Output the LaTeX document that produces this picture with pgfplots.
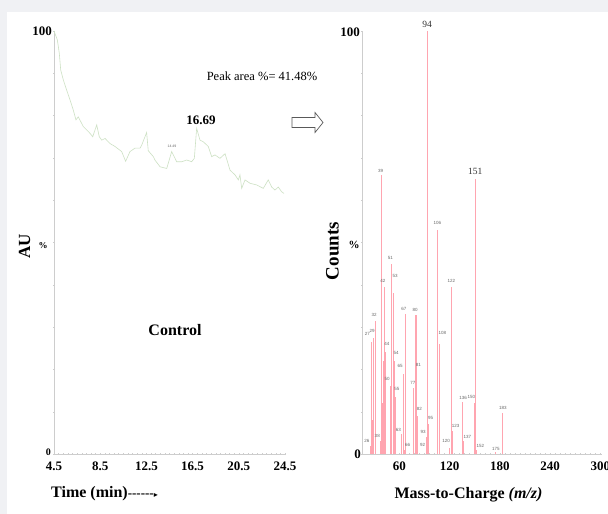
\documentclass[border=0pt]{standalone}
\usepackage{fontspec}
\setmainfont{Liberation Serif}
\newfontfamily\lsans{Liberation Sans}
\newfontfamily\dejavu{DejaVu Sans}
\usepackage{pgfplots}
\pgfplotsset{compat=1.18}
\definecolor{bgc}{RGB}{240,241,244}
\definecolor{curvec}{RGB}{205,225,196}
\definecolor{barc}{RGB}{255,165,176}
\definecolor{axc}{RGB}{205,205,205}
\definecolor{labc}{RGB}{105,105,105}
\newcommand{\fs}[1]{\fontsize{#1}{#1}\selectfont}

\pgfplotstableread{
x y
4.50 100
4.79 97.9
4.96 94.7
5.08 90.8
5.31 88.4
5.60 86.0
5.89 83.7
6.17 81.3
6.40 79.0
6.60 79.7
6.81 78.6
7.04 77.4
7.33 76.6
7.62 75.8
7.85 75.0
8.20 77.8
8.42 75.0
8.63 74.2
8.92 74.6
9.35 73.4
9.78 72.7
10.36 71.5
10.70 69.2
11.08 71.5
11.51 72.3
11.95 72.3
12.09 73.0
12.52 76.0
12.66 71.7
13.10 70.3
13.24 69.5
13.68 67.9
14.26 67.5
14.69 71.5
15.12 69.1
15.56 69.1
15.99 69.5
16.42 69.1
16.65 69.9
16.85 77.0
17.14 74.2
17.43 73.8
17.86 72.7
18.15 70.3
18.44 70.7
18.87 69.9
19.31 71.0
19.74 67.1
20.17 66.0
20.46 64.8
20.60 66.0
20.75 62.8
21.04 64.8
21.47 64.0
22.05 63.6
22.62 62.8
23.05 64.8
23.35 63.1
23.63 62.4
23.92 63.1
24.21 62.0
24.41 61.6
}\chrom

\pgfplotstableread{
mz c
26 1.8
27 26.5
28 8
29 27.5
32 31.5
38 3
39 66
40 12
41 22
42 39.5
43 12
44 24
50 16
51 45
53 38
54 22
55 13.5
63 4.8
65 19
66 1.0
67 33
77 15.5
80 32.8
81 19.5
82 9
92 1.0
93 4
94 100
95 7
106 53
108 26
120 1.5
122 39.5
123 5.5
136 12.2
137 3
150 12
151 65
152 1.0
175 0.5
183 9.8
}\spec

\pgfplotstableread{
lx ly lab
37.6 66.9 39
105.5 54.7 106
49.5 46.4 51
55.1 42.2 53
40.4 41.0 42
122.1 41.0 122
65.4 34.3 67
78.9 34.0 80
30.1 32.9 32
21.8 28.5 27
27.7 29.1 29
111.4 28.5 108
45.1 26.0 44
56.3 23.9 54
61.1 20.8 65
82.9 21.0 81
76.1 16.9 77
45.6 17.7 50
57.0 15.3 55
136.1 13.2 136
146.0 13.5 150
183.7 10.8 183
84.0 10.6 82
97.5 8.5 95
59.0 5.8 63
127.3 6.7 123
88.5 5.1 93
33.7 4.3 38
141.2 4.1 137
21.3 3.0 26
115.8 3.0 120
70.1 2.1 66
88.0 2.2 92
156.7 2.0 152
175.4 1.1 175
}\speclab

\pgfplotstableread{
lx ly lab
93.2 101.6 94
150.7 66.9 151
}\speclabbig

\begin{document}
\begin{tikzpicture}
\fill[bgc] (0,0) rectangle (608pt,-514pt);
\fill[white] (7pt,-12pt) rectangle (608pt,-514pt);

\begin{axis}[at={(54pt,-454pt)}, anchor=south west, scale only axis,
  width=231pt, height=423pt, xmin=4.5, xmax=24.5, ymin=0, ymax=100,
  axis x line=bottom, axis y line=left,
  axis line style={-, draw=axc, line width=0.5pt},
  xtick={4.5,8.5,12.5,16.5,20.5,24.5}, ytick={0,10,...,100}, yticklabels={},
  minor x tick num=9, major tick length=2pt, minor tick length=1.5pt,
  tick style={draw=axc, line width=0.4pt},
  /pgf/number format/assume math mode=true,
  xticklabel={\pgfmathprintnumber[fixed,fixed zerofill,precision=1]{\tick}},
  xticklabel style={font=\bfseries\fs{13}, text=black, yshift=-3pt},
  clip=false]
\addplot[curvec, line width=0.6pt, mark=none] table[x=x,y=y] {\chrom};
\end{axis}

\begin{axis}[at={(362pt,-454pt)}, anchor=south west, scale only axis,
  width=240pt, height=423pt, xmin=15.5, xmax=302, ymin=0, ymax=100,
  axis x line=bottom, axis y line=left,
  axis line style={-, draw=axc, line width=0.5pt},
  xtick={60,120,180,240,300}, ytick={0,10,...,100}, yticklabels={},
  minor x tick num=9, major tick length=2pt, minor tick length=1.5pt,
  tick style={draw=axc, line width=0.4pt},
  /pgf/number format/assume math mode=true,
  xticklabel style={font=\bfseries\fs{13}, text=black, yshift=-3pt},
  clip=false]
\addplot[ycomb, draw=barc, line width=1.1pt, mark=none] table[x=mz,y=c] {\spec};
\addplot[draw=none, mark=none, nodes near coords={\pgfplotspointmeta}, point meta=explicit symbolic,
  every node near coord/.style={anchor=center, font=\lsans\fs{4.5}, text=labc, inner sep=0pt}]
  table[x=lx,y=ly,meta=lab] {\speclab};
\addplot[draw=none, mark=none, nodes near coords={\pgfplotspointmeta}, point meta=explicit symbolic,
  every node near coord/.style={anchor=center, font=\fs{9.5}, text=black!80, inner sep=0pt}]
  table[x=lx,y=ly,meta=lab] {\speclabbig};
\end{axis}

% left annotations
\node[font=\bfseries\fs{13}, anchor=east, inner sep=0pt] at (52pt,-31pt) {100};
\node[font=\bfseries\fs{9}, inner sep=0pt] at (43pt,-246pt) {\%};
\node[font=\bfseries\fs{10}, anchor=east, inner sep=0pt] at (51pt,-452pt) {0};
\node[font=\bfseries\fs{17}, rotate=90, inner sep=0pt] at (24.5pt,-246pt) {AU};
\node[font=\bfseries\fs{16}, anchor=west, inner sep=0pt] at (51pt,-494pt) {Time (min)\fs{13}-{}-{}-{}-{}-{}-\dejavu\fs{8}▸};
\node[font=\bfseries\fs{16}, inner sep=0pt] at (175pt,-330pt) {Control};
\node[font=\bfseries\fs{13}, inner sep=0pt] at (201pt,-120pt) {16.69};
\node[font=\lsans\fs{3.5}, text=labc, inner sep=0pt] at (172pt,-146pt) {14.49};
\node[font=\fs{12.5}, inner sep=0pt] at (262pt,-76pt) {Peak area \%= 41.48\%};
\draw[black!65, line width=0.7pt, fill=white, line join=miter]
  (292pt,-117.5pt) -- (315pt,-117.5pt) -- (315pt,-112.5pt) -- (323pt,-122.5pt)
  -- (315pt,-132.5pt) -- (315pt,-127.5pt) -- (292pt,-127.5pt) -- cycle;

% right annotations
\node[font=\bfseries\fs{13}, anchor=east, inner sep=0pt] at (360pt,-32pt) {100};
\node[font=\bfseries\fs{11}, inner sep=0pt] at (354pt,-245pt) {\%};
\node[font=\bfseries\fs{13}, anchor=east, inner sep=0pt] at (361pt,-454pt) {0};
\node[font=\bfseries\fs{19}, rotate=90, inner sep=0pt] at (332.5pt,-251pt) {Counts};
\node[font=\bfseries\fs{16}, inner sep=0pt] at (468.5pt,-495pt) {Mass-to-Charge \textit{(m/z)}};

\pgfresetboundingbox
\path[use as bounding box] (0,0) rectangle (608pt,-514pt);
\end{tikzpicture}
\end{document}
